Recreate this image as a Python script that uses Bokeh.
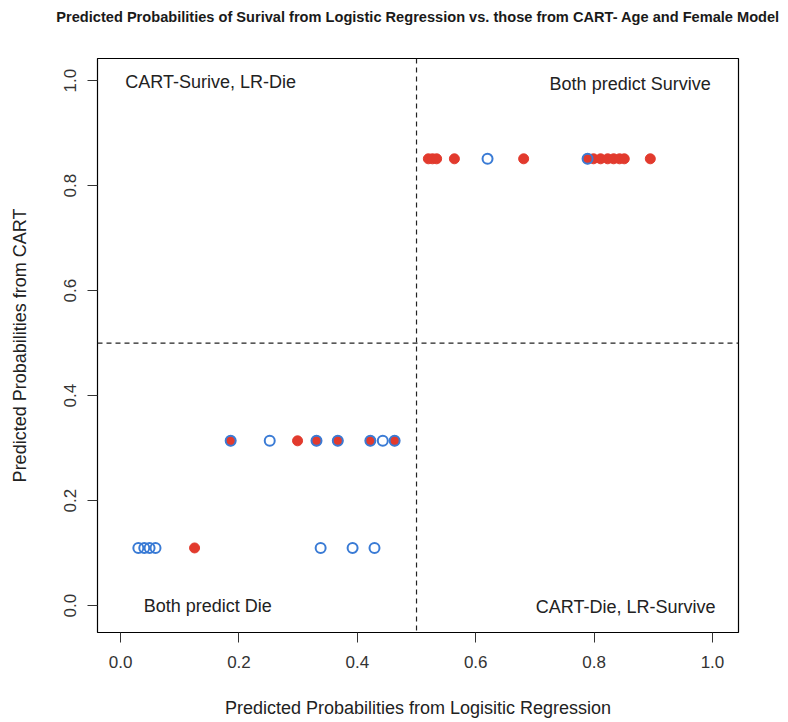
from bokeh.plotting import figure
from bokeh.models import Span, Label, Range1d, FixedTicker, PrintfTickFormatter, Title
from bokeh.embed import file_html
from bokeh.resources import INLINE

# Blue open circles (all observations)
blue_lr = [0.620, 0.789,
           0.186, 0.252, 0.331, 0.367, 0.422, 0.443, 0.463,
           0.030, 0.040, 0.049, 0.059, 0.338, 0.392, 0.429]
blue_cart = [0.851, 0.851,
             0.314, 0.314, 0.314, 0.314, 0.314, 0.314, 0.314,
             0.110, 0.110, 0.110, 0.110, 0.110, 0.110, 0.110]

# Red filled circles
red_lr = [0.520, 0.527, 0.534, 0.564, 0.681, 0.789, 0.799, 0.811, 0.823, 0.833, 0.843, 0.851, 0.895,
          0.186, 0.299, 0.331, 0.367, 0.422, 0.463,
          0.125]
red_cart = [0.851] * 13 + [0.314] * 6 + [0.110]

ticks = [0.0, 0.2, 0.4, 0.6, 0.8, 1.0]
title_text = "Predicted Probabilities of Surival from Logistic Regression vs. those from CART- Age and Female Model"
x_label = "Predicted Probabilities from Logisitic Regression"
y_label = "Predicted Probabilities from CART"

FONT = "Liberation Sans"
FW, FH = 641, 574

p = figure(frame_width=FW, frame_height=FH,
           min_border_left=97, min_border_right=50, min_border_top=58, min_border_bottom=82,
           x_range=Range1d(-0.039, 1.044), y_range=Range1d(-0.051, 1.042),
           output_backend="svg", toolbar_location=None)

p.grid.visible = False
p.outline_line_color = "black"
p.outline_line_width = 1.2

for ax in (p.xaxis, p.yaxis):
    ax.ticker = FixedTicker(ticks=ticks)
    ax.formatter = PrintfTickFormatter(format="%.1f")
    ax.axis_line_color = None
    ax.major_tick_in = 0
    ax.major_tick_out = 10
    ax.major_tick_line_color = "#333333"
    ax.minor_tick_line_color = None
    ax.major_label_text_font = FONT
    ax.major_label_text_font_size = "17px"
    ax.major_label_text_color = "#333333"
    ax.axis_label_text_font = FONT
    ax.axis_label_text_font_size = "18px"
    ax.axis_label_text_font_style = "normal"
    ax.axis_label_text_color = "#222222"

p.xaxis.axis_label = x_label
p.yaxis.axis_label = y_label
p.xaxis.major_label_standoff = 13
p.xaxis.axis_label_standoff = 27
p.yaxis.major_label_orientation = "vertical"
p.yaxis.major_label_standoff = 11
p.yaxis.axis_label_standoff = 32

p.add_layout(Span(location=0.5, dimension="height", line_color="#222222", line_dash="5 4", line_width=1.2))
p.add_layout(Span(location=0.5, dimension="width", line_color="#222222", line_dash="5 4", line_width=1.2))

p.scatter(red_lr, red_cart, size=10, fill_color="#e23a2d", line_color="#e23a2d")
p.scatter(blue_lr, blue_cart, size=10, fill_color=None, line_color="#3a7bd5", line_width=2)

for x, y, t, al in [(0.008, 0.997, "CART-Surive, LR-Die", "left"),
                    (0.997, 0.993, "Both predict Survive", "right"),
                    (0.039, 0.0, "Both predict Die", "left"),
                    (1.005, -0.003, "CART-Die, LR-Survive", "right")]:
    p.add_layout(Label(x=x, y=y, text=t, text_align=al, text_baseline="middle",
                       text_font=FONT, text_font_size="18px", text_color="#222222"))

# spacer (nearest the frame) then the real title, stacked in the "above" panel
p.add_layout(Title(text=" ", text_font_size="1px", standoff=26), "above")
p.add_layout(Title(text=title_text, align="center", standoff=10,
                   text_font=FONT, text_font_size="14.6px", text_font_style="bold",
                   text_color="#1a1a1a"), "above")

open("out.html", "w").write(file_html(p, INLINE))
